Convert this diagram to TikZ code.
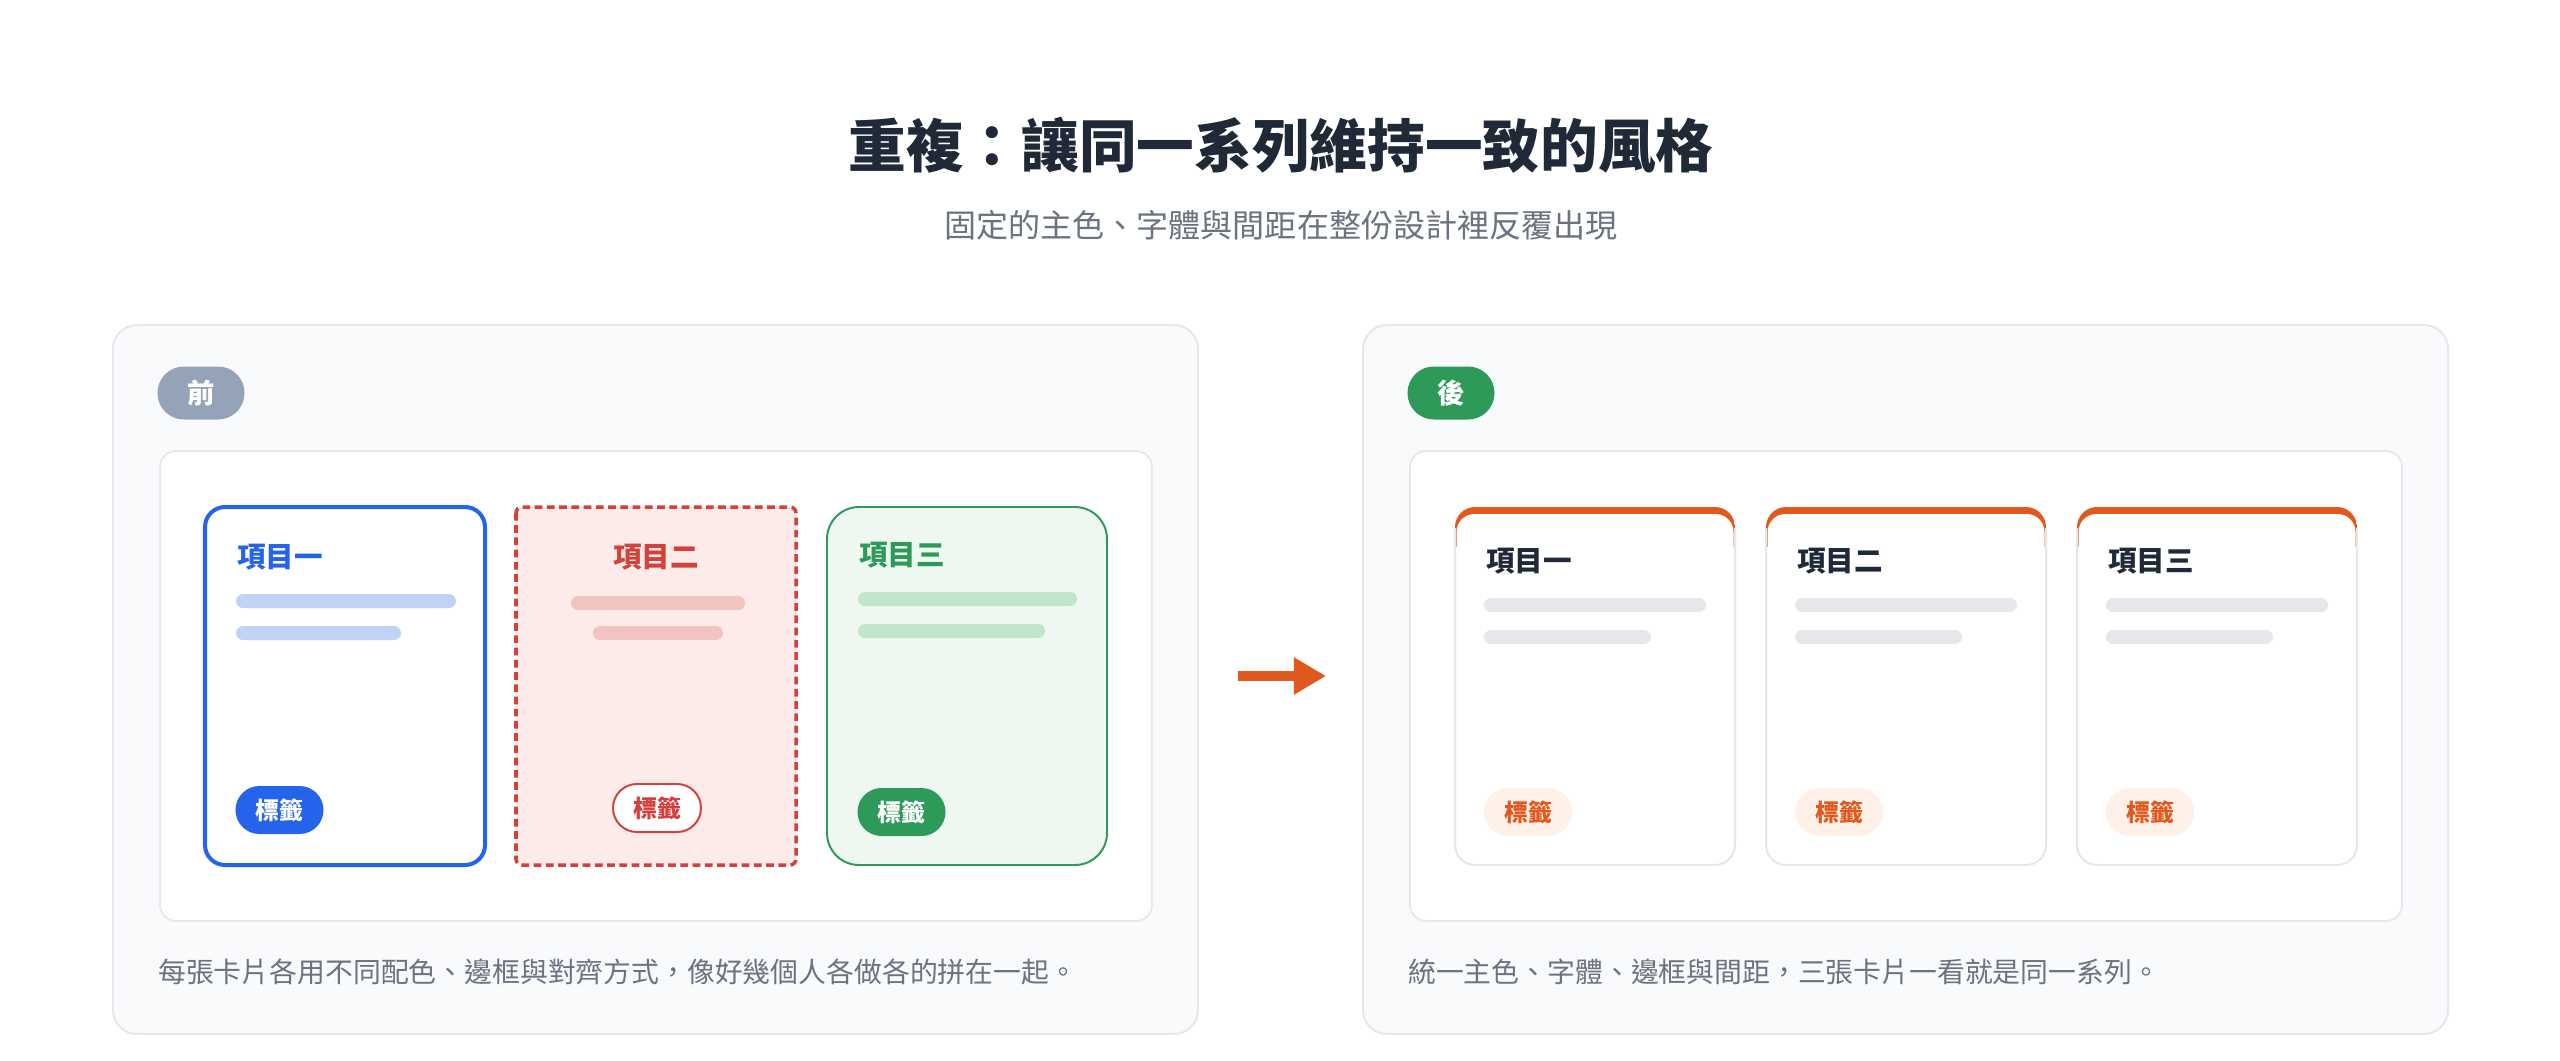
\documentclass[tikz,border=0pt]{standalone}
\usepackage{fontspec}
\newfontfamily\cjk{Noto Sans CJK TC}
\usetikzlibrary{arrows.meta}
\definecolor{ink}{HTML}{1F2937}
\definecolor{muted}{HTML}{6B7280}
\definecolor{rim}{HTML}{E5E7EB}
\definecolor{panelbg}{HTML}{F9FAFB}
\definecolor{slate}{HTML}{94A3B8}
\definecolor{grn}{HTML}{2E9A5A}
\definecolor{grnpale}{HTML}{EEF8F1}
\definecolor{grnbar}{HTML}{C0E6CB}
\definecolor{blu}{HTML}{2563EB}
\definecolor{blubar}{HTML}{BFD4F5}
\definecolor{rd}{HTML}{D4403A}
\definecolor{rdpale}{HTML}{FDEBEA}
\definecolor{rdbar}{HTML}{F2C4C0}
\definecolor{org}{HTML}{E05A1F}
\definecolor{orgpale}{HTML}{FFF1E8}

\begin{document}
\begin{tikzpicture}[x=0.025cm,y=-0.025cm,
	ttl/.style={font=\cjk\bfseries\fontsize{41}{48}\selectfont,text=ink,inner sep=0},
	sub/.style={font=\cjk\fontsize{22.8}{27}\selectfont,text=muted,inner sep=0},
	note/.style={font=\cjk\fontsize{19.8}{24}\selectfont,text=muted,inner sep=0,anchor=west},
	cardtitle/.style={font=\cjk\bfseries\fontsize{20.3}{24}\selectfont,inner sep=0},
	badge/.style={font=\cjk\bfseries\fontsize{19.5}{24}\selectfont,text=white,minimum width=2.175cm,minimum height=1.325cm,rounded corners=0.66cm,inner sep=0},
	pill/.style={font=\cjk\bfseries\fontsize{17}{20}\selectfont,minimum width=2.2cm,minimum height=1.2cm,rounded corners=0.6cm,inner sep=0},
	bar/.style={rounded corners=0.175cm}]
	\path[use as bounding box,fill=white] (0,0) rectangle (2560,1060);
	\node[ttl] (title) at (1281,145) {重複：讓同一系列維持一致的風格};
	\node[sub] (subtitle) at (1281,225) {固定的主色、字體與間距在整份設計裡反覆出現};
	\foreach \px in {113,1363}{
		\draw[rim,fill=panelbg,line width=1.4pt,rounded corners=0.6cm] (\px,325) rectangle ++(1085,709);
		\draw[rim,fill=white,line width=1.2pt,rounded corners=0.4cm] (\px+47,451) rectangle ++(992,470);}
	\node[badge,fill=slate] (before) at (201,393) {前};
	\node[badge,fill=grn] (after) at (1451,393) {後};
	\draw[blu,fill=white,line width=2.85pt,rounded corners=0.5cm] (205,507) rectangle (485,865);
	\draw[rd,fill=rdpale,line width=2.5pt,dash pattern=on 5.5pt off 3.2pt,rounded corners=0.15cm] (516,507) rectangle (796,865);
	\draw[grn,fill=grnpale,line width=1.4pt,rounded corners=0.8cm] (827,507) rectangle (1107,865);
	\node[cardtitle,text=blu,anchor=west] (one) at (237,557) {項目一};
	\node[cardtitle,text=rd] (two) at (656,557) {項目二};
	\node[cardtitle,text=grn,anchor=west] (three) at (859,555) {項目三};
	\fill[blubar,bar] (236,594) rectangle (456,608) (236,626) rectangle (401,640);
	\fill[rdbar,bar] (571,596) rectangle (745,610) (593,626) rectangle (723,640);
	\fill[grnbar,bar] (858,592) rectangle (1077,606) (858,624) rectangle (1045,638);
	\node[pill,fill=blu,text=white] (tagone) at (279.5,810) {標籤};
	\node[pill,fill=white,draw=rd,line width=1.4pt,text=rd] (tagtwo) at (657,808) {標籤};
	\node[pill,fill=grn,text=white] (tagthree) at (901.5,812) {標籤};
	\foreach \cx/\nm/\lbl in {1455/a/項目一,1766/b/項目二,2077/c/項目三}{
		\begin{scope}
			\clip[rounded corners=0.5cm] (\cx,507) rectangle ++(280,358);
			\fill[org] (\cx,507) rectangle ++(280,40);
			\fill[white,rounded corners=0.45cm] (\cx+1.5,514) rectangle (\cx+278.5,900);
		\end{scope}
		\draw[rim,line width=1.4pt,rounded corners=0.5cm] (\cx,528) -- (\cx,865) -- (\cx+280,865) -- (\cx+280,528);
		\node[cardtitle,text=ink,anchor=west] (title\nm) at (\cx+31,561) {\lbl};
		\fill[rim,bar] (\cx+29,598) rectangle ++(222,14) (\cx+29,630) rectangle ++(167,14);
		\node[pill,fill=orgpale,text=org] (tag\nm) at (\cx+73,812) {標籤};}
	\coordinate (from) at (1238,676);
	\coordinate (to) at (1326,676);
	\draw[org,line width=7.1pt,-{Triangle[length=22.8pt,width=25pt]}] (from) -- (to);
	\node[note] (notebefore) at (158,972) {每張卡片各用不同配色、邊框與對齊方式，像好幾個人各做各的拼在一起。};
	\node[note] (noteafter) at (1408,972) {統一主色、字體、邊框與間距，三張卡片一看就是同一系列。};
\end{tikzpicture}
\end{document}
